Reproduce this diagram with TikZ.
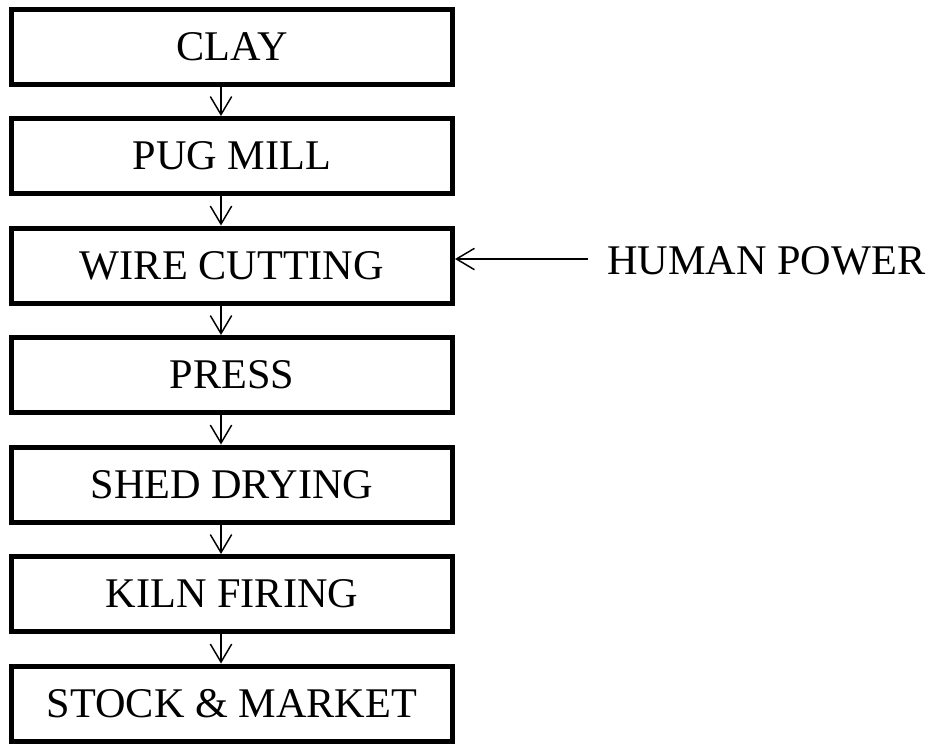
\documentclass[tikz,border=0pt]{standalone}
\usepackage{fontspec}
\setmainfont{Liberation Serif}
\usetikzlibrary{arrows.meta}
\begin{document}
\begin{tikzpicture}[x=0.75pt,y=-0.75pt,
  stepbox/.style={draw, line width=3.75pt, minimum width=330.75pt, minimum height=56.25pt, inner sep=0pt,
    font=\fontsize{31.7pt}{38pt}\selectfont},
  lbl/.style={inner sep=0pt, font=\fontsize{31.7pt}{38pt}\selectfont},
  flow/.style={line width=1.1pt, -{Straight Barb[length=13.5pt,width=16pt]}}]
\useasboundingbox (0,0) rectangle (932,744);
\node[stepbox] (b1) at (232,46.5) {CLAY};
\node[stepbox] (b2) at (232,156) {PUG MILL};
\node[stepbox] (b3) at (232,265.5) {WIRE CUTTING};
\node[stepbox] (b4) at (232,375) {PRESS};
\node[stepbox] (b5) at (232,484.5) {SHED DRYING};
\node[stepbox] (b6) at (232,594) {KILN FIRING};
\node[stepbox] (b7) at (232,703.5) {STOCK \& MARKET};
\node[lbl, anchor=west] (hp) at (607,261) {HUMAN POWER};
\coordinate (ax) at (221,0);
\coordinate (hs) at (588,259);
\foreach \a/\b in {b1/b2,b2/b3,b3/b4,b4/b5,b5/b6,b6/b7}
  \draw[flow] (\a.south -| ax) -- (\b.north -| ax);
\draw[flow] (hs) -- (hs -| b3.east);
\end{tikzpicture}
\end{document}
